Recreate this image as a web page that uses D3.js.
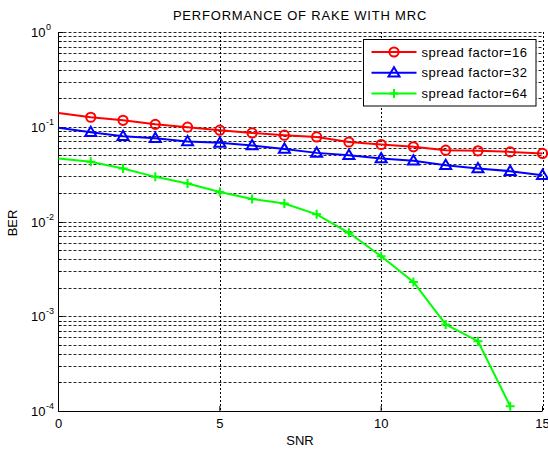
<!DOCTYPE html>
<html>
<head>
<meta charset="utf-8">
<script src="https://cdn.jsdelivr.net/npm/d3@7"></script>
<style>
  body { margin: 0; background: #fff; }
  svg { display: block; }
  text { font-family: "Liberation Sans", Arial, sans-serif; fill: #000; }
</style>
</head>
<body>
<svg id="chart" width="548" height="451"></svg>
<script>
// values (BER per SNR step)
var snr = [0, 1, 2, 3, 4, 5, 6, 7, 8, 9, 10, 11, 12, 13, 14, 15]
var ber16 = [0.140, 0.126, 0.117, 0.106, 0.099, 0.092, 0.086, 0.0815, 0.078, 0.069,
             0.065, 0.0614, 0.0566, 0.0557, 0.0543, 0.0523]
var ber32 = [0.0974, 0.0877, 0.0796, 0.0758, 0.070, 0.0676, 0.0635, 0.0584, 0.053, 0.050,
             0.0463, 0.0437, 0.0393, 0.0363, 0.034, 0.0308]
var ber64 = [0.0463, 0.0426, 0.0363, 0.0296, 0.0252, 0.0205, 0.0173, 0.0155, 0.0119, 0.0076,
             0.0043, 0.0023, 0.00082, 0.000545, 0.000112, null]
var seriesNames = ["spread factor=16", "spread factor=32", "spread factor=64"]
var xTicks = [0, 5, 10, 15]
var yDecades = [0, -1, -2, -3, -4]

var plot = { left: 58.5, right: 542.5, top: 32, bottom: 411 }

var svg = d3.select("#chart")

var xScale = d3.scaleLinear().domain([0, 15]).range([plot.left, plot.right])
var yScale = d3.scaleLog().domain([1e-4, 1]).range([plot.bottom, plot.top])

// grid lines (dashed, like matlab "grid on" + minor log grid)
var grid = svg.append("g").attr("class", "grid")
  .attr("stroke", "#000").attr("stroke-width", 1).attr("stroke-dasharray", "3,2")

var yGridVals = []
yDecades.forEach(function(e) {
  if (e < 0) {
    for (var m = 1; m <= 9; m++) yGridVals.push(m * Math.pow(10, e))
  } else {
    yGridVals.push(1)
  }
})

grid.selectAll("line.h").data(yGridVals).enter().append("line")
  .attr("x1", plot.left).attr("x2", plot.right)
  .attr("y1", d => Math.round(yScale(d)) + 0.5)
  .attr("y2", d => Math.round(yScale(d)) + 0.5)
  .attr("stroke-opacity", 0.85)

grid.selectAll("line.v").data(xTicks.slice(1)).enter().append("line")
  .attr("x1", d => Math.round(xScale(d)) + 0.5).attr("x2", d => Math.round(xScale(d)) + 0.5)
  .attr("y1", plot.top).attr("y2", plot.bottom)
  .attr("stroke-dasharray", "2,2")

// axes: left and bottom solid lines with inward ticks
var axes = svg.append("g").attr("stroke", "#000").attr("stroke-width", 1)
axes.append("line")
  .attr("x1", plot.left).attr("x2", plot.left)
  .attr("y1", plot.top).attr("y2", plot.bottom + 0.5)
axes.append("line")
  .attr("x1", plot.left).attr("x2", plot.right)
  .attr("y1", plot.bottom + 0.5).attr("y2", plot.bottom + 0.5)

axes.selectAll("line.yt").data(yGridVals).enter().append("line")
  .attr("x1", plot.left)
  .attr("x2", d => plot.left + (Math.abs(Math.log10(d) - Math.round(Math.log10(d))) < 1e-9 ? 5 : 3))
  .attr("y1", d => Math.round(yScale(d)) + 0.5)
  .attr("y2", d => Math.round(yScale(d)) + 0.5)

axes.selectAll("line.xt").data(xTicks).enter().append("line")
  .attr("x1", d => xScale(d)).attr("x2", d => xScale(d))
  .attr("y1", plot.bottom).attr("y2", plot.bottom - 5)

// x tick labels
svg.append("g").selectAll("text").data(xTicks).enter().append("text")
  .attr("x", d => xScale(d))
  .attr("y", plot.bottom + 17)
  .attr("text-anchor", "middle")
  .attr("font-size", 13)
  .text(d => d)

// y tick labels: 10 with superscript exponent
var yLab = svg.append("g").selectAll("g").data(yDecades).enter().append("g")
yLab.append("text")
  .attr("x", 45.5)
  .attr("y", d => yScale(Math.pow(10, d)) + 5)
  .attr("text-anchor", "end")
  .attr("font-size", 13)
  .text("10")
yLab.append("text")
  .attr("x", 46)
  .attr("y", d => yScale(Math.pow(10, d)) - 2)
  .attr("font-size", 9)
  .text(d => d)

// title and axis labels
svg.append("text")
  .attr("x", 300).attr("y", 19.5)
  .attr("text-anchor", "middle")
  .attr("font-size", 13)
  .attr("letter-spacing", 0.8)
  .text("PERFORMANCE OF RAKE WITH MRC")

svg.append("text")
  .attr("x", 300).attr("y", 445)
  .attr("text-anchor", "middle")
  .attr("font-size", 13)
  .text("SNR")

svg.append("text")
  .attr("transform", "translate(17,223) rotate(-90)")
  .attr("text-anchor", "middle")
  .attr("font-size", 13)
  .text("BER")

// series
var series = [
  { name: seriesNames[0], values: ber16, color: "#ff0000", marker: "circle" },
  { name: seriesNames[1], values: ber32, color: "#0000ff", marker: "triangle" },
  { name: seriesNames[2], values: ber64, color: "#00ff00", marker: "plus" }
]

var line = d3.line()
  .defined(d => d.y != null)
  .x(d => xScale(d.x))
  .y(d => yScale(d.y))

function drawMarker(g, type, color) {
  if (type === "circle") {
    g.append("circle").attr("r", 4.6)
      .attr("fill", "none").attr("stroke", color).attr("stroke-width", 2)
  } else if (type === "triangle") {
    g.append("path").attr("d", "M0,-5.5L5.5,3.8L-5.5,3.8Z")
      .attr("fill", "none").attr("stroke", color).attr("stroke-width", 2)
  } else {
    g.append("path").attr("d", "M-4.5,0H4.5M0,-4.5V4.5")
      .attr("fill", "none").attr("stroke", color).attr("stroke-width", 2)
  }
}

var plotArea = svg.append("g")
series.forEach(function(s) {
  var pts = snr.map((x, i) => ({ x: x, y: s.values[i] }))
  plotArea.append("path")
    .datum(pts)
    .attr("fill", "none")
    .attr("stroke", s.color)
    .attr("stroke-width", 2)
    .attr("d", line)
  // markers from the second point on
  pts.slice(1).filter(p => p.y != null).forEach(function(p) {
    var g = plotArea.append("g")
      .attr("transform", "translate(" + xScale(p.x) + "," + yScale(p.y) + ")")
    drawMarker(g, s.marker, s.color)
  })
})

// legend
var legend = svg.append("g").attr("transform", "translate(363.5,39.5)")
legend.append("rect")
  .attr("width", 172.5).attr("height", 66.5)
  .attr("fill", "#fff").attr("stroke", "#000").attr("stroke-width", 1)

series.forEach(function(s, i) {
  var cy = 12.5 + i * 20.8
  legend.append("line")
    .attr("x1", 8).attr("x2", 53)
    .attr("y1", cy).attr("y2", cy)
    .attr("stroke", s.color).attr("stroke-width", 2)
  var g = legend.append("g").attr("transform", "translate(30.5," + cy + ")")
  drawMarker(g, s.marker, s.color)
  legend.append("text")
    .attr("x", 58).attr("y", cy + 4.5)
    .attr("font-size", 13)
    .attr("letter-spacing", 0.5)
    .text(s.name)
})
</script>
</body>
</html>
